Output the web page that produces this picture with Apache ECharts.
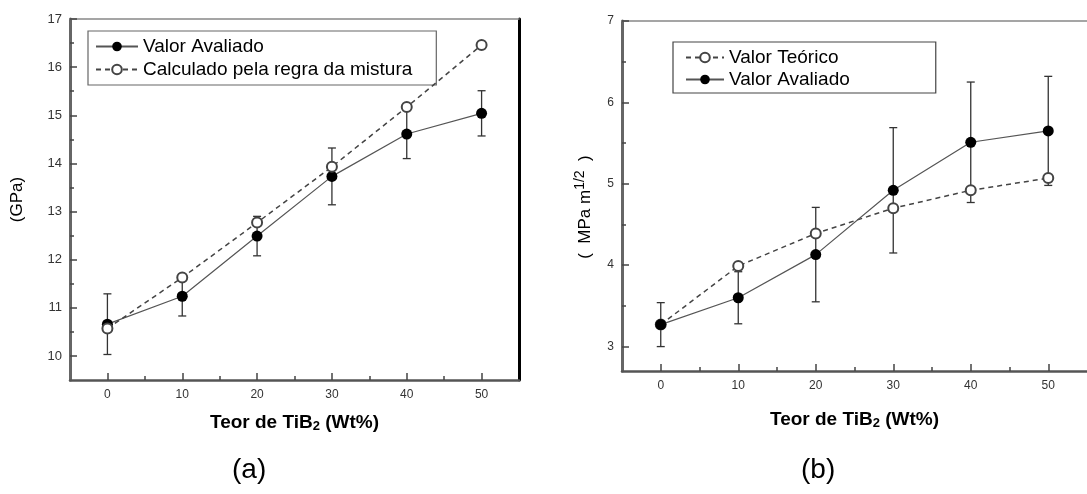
<!DOCTYPE html>
<html>
<head>
<meta charset="utf-8">
<script src="https://cdn.jsdelivr.net/npm/echarts@6/dist/echarts.min.js"></script>
<style>
  html, body { margin: 0; padding: 0; background: #fff; }
  #chart { width: 1087px; height: 494px; }
</style>
</head>
<body>
<div id="chart"></div>
<script>
// eixo x comum aos dois gráficos
const teorTiB2 = [0, 10, 20, 30, 40, 50];
const xMajor = [0, 10, 20, 30, 40, 50];
const xMinor = [5, 15, 25, 35, 45];

// (a) dureza
const durezaAvaliado = [10.66, 11.24, 12.49, 13.73, 14.61, 15.04];
const durezaErro = [0.63, 0.41, 0.41, 0.59, 0.51, 0.47];
const durezaMistura = [10.57, 11.63, 12.77, 13.93, 15.17, 16.46];
const yMajorA = [10, 11, 12, 13, 14, 15, 16, 17];
const yMinorA = [10.5, 11.5, 12.5, 13.5, 14.5, 15.5, 16.5];

// (b) tenacidade
const tenacAvaliado = [3.27, 3.60, 4.13, 4.92, 5.51, 5.65];
const tenacErro = [0.27, 0.32, 0.58, 0.77, 0.74, 0.67];
const tenacTeorico = [3.27, 3.99, 4.39, 4.70, 4.92, 5.07];
const yMajorB = [3, 4, 5, 6, 7];
const yMinorB = [3.5, 4.5, 5.5, 6.5];

const FONT = "'Liberation Sans', Arial, sans-serif";

const pares = (ys) => teorTiB2.map((x, i) => [x, ys[i]]);
const barras = (ys, err) => teorTiB2.map((x, i) => [x, ys[i] - err[i], ys[i] + err[i]]);

// barra de erro com "chapéu"
function renderErro(params, api) {
  const x = api.value(0);
  const lo = api.coord([x, api.value(1)]);
  const hi = api.coord([x, api.value(2)]);
  const w = 4;
  const st = { stroke: '#333', lineWidth: 1.3 };
  return {
    type: 'group',
    children: [
      { type: 'line', shape: { x1: hi[0], y1: hi[1], x2: lo[0], y2: lo[1] }, style: st },
      { type: 'line', shape: { x1: hi[0] - w, y1: hi[1], x2: hi[0] + w, y2: hi[1] }, style: st },
      { type: 'line', shape: { x1: lo[0] - w, y1: lo[1], x2: lo[0] + w, y2: lo[1] }, style: st }
    ]
  };
}

const nomeX = {
  name: 'Teor de TiB{sub|2} (Wt%)',
  nameLocation: 'middle',
  nameTextStyle: {
    fontFamily: FONT, fontSize: 19, fontWeight: 'bold', color: '#000',
    rich: { sub: { fontFamily: FONT, fontSize: 13, fontWeight: 'bold', color: '#000', padding: [8, 0, 0, 0] } }
  }
};

function eixoX(grid, gap) {
  return [
    Object.assign({
      gridIndex: grid, type: 'value', min: -5, max: 55, position: 'bottom', nameGap: gap,
      axisLine: { onZero: false, lineStyle: { color: '#555', width: 2.5 } },
      axisTick: { inside: true, length: 7, customValues: xMajor, lineStyle: { color: '#444', width: 1.5 } },
      axisLabel: { customValues: xMajor, margin: 9, fontFamily: FONT, fontSize: 12, color: '#333' },
      splitLine: { show: false }
    }, nomeX),
    {
      gridIndex: grid, type: 'value', min: -5, max: 55, position: 'bottom',
      axisLine: { show: false, onZero: false },
      axisTick: { inside: true, length: 4, customValues: xMinor, lineStyle: { color: '#444', width: 1.5 } },
      axisLabel: { show: false }, splitLine: { show: false }
    },
    {
      gridIndex: grid, type: 'value', min: -5, max: 55, position: 'top',
      axisLine: { onZero: false, lineStyle: { color: '#888', width: 1.5 } },
      axisTick: { show: false }, axisLabel: { show: false }, splitLine: { show: false }
    }
  ];
}

function eixoY(grid, min, max, major, minor, extra) {
  return [
    Object.assign({
      gridIndex: grid, type: 'value', min: min, max: max, position: 'left',
      nameLocation: 'middle', nameRotate: 90,
      axisLine: { onZero: false, lineStyle: { color: '#666', width: 3 } },
      axisTick: { inside: true, length: 7, customValues: major, lineStyle: { color: '#444', width: 1.5 } },
      axisLabel: { customValues: major, margin: 8, fontFamily: FONT, fontSize: 13, color: '#333' },
      splitLine: { show: false }
    }, extra),
    {
      gridIndex: grid, type: 'value', min: min, max: max, position: 'left',
      axisLine: { show: false, onZero: false },
      axisTick: { inside: true, length: 4, customValues: minor, lineStyle: { color: '#444', width: 1.5 } },
      axisLabel: { show: false }, splitLine: { show: false }
    }
  ];
}

const chart = echarts.init(document.getElementById('chart'));

const yA = eixoY(0, 9.5, 17, yMajorA, yMinorA, {
  name: '(GPa)', nameGap: 44,
  nameTextStyle: { fontFamily: FONT, fontSize: 17, color: '#000' }
});
yA.push({
  gridIndex: 0, type: 'value', min: 9.5, max: 17, position: 'right',
  axisLine: { onZero: false, lineStyle: { color: '#000', width: 3 } },
  axisTick: { show: false }, axisLabel: { show: false }, splitLine: { show: false }
});

const yB = eixoY(1, 2.7, 7, yMajorB, yMinorB, {
  name: '(  MPa m{sup|1/2}  )', nameGap: 24,
  nameTextStyle: {
    fontFamily: FONT, fontSize: 17, color: '#000', padding: [0, 22, 0, 0],
    rich: { sup: { fontFamily: FONT, fontSize: 14, color: '#000', padding: [0, 0, 11, 0] } }
  }
});
yB[0].axisLabel.fontSize = 12;

const solido = { color: '#555', width: 1.2 };
const tracejado = { color: '#444', width: 1.5, type: [5, 4] };

const option = {
  animation: false,
  textStyle: { fontFamily: FONT },
  grid: [
    { left: 70, top: 19, width: 449, height: 361 },
    { left: 622, top: 21, width: 470, height: 350 }
  ],
  legend: [
    {
      left: 88, top: 31, orient: 'vertical',
      data: ['Valor Avaliado', 'Calculado pela regra da mistura'],
      borderColor: '#666', borderWidth: 1.2, padding: [6, 24, 6, 7],
      itemGap: 4, itemWidth: 42, itemHeight: 12,
      textStyle: { fontFamily: FONT, fontSize: 19, color: '#000' }
    },
    {
      left: 673, top: 42, orient: 'vertical',
      data: ['Valor Teórico', 'Valor Avaliado'],
      borderColor: '#444', borderWidth: 1.2, padding: [6, 86, 4, 12],
      itemGap: 3, itemWidth: 38, itemHeight: 12,
      textStyle: { fontFamily: FONT, fontSize: 19, color: '#000' }
    }
  ],
  xAxis: eixoX(0, 32).concat(eixoX(1, 38)),
  yAxis: yA.concat(yB),
  series: [
    {
      name: 'erro-a', type: 'custom', xAxisIndex: 0, yAxisIndex: 0,
      renderItem: renderErro, data: barras(durezaAvaliado, durezaErro), z: 2
    },
    {
      name: 'Valor Avaliado', type: 'line', xAxisIndex: 0, yAxisIndex: 0,
      data: pares(durezaAvaliado), symbol: 'circle', symbolSize: 11,
      itemStyle: { color: '#000' }, lineStyle: solido, z: 3
    },
    {
      name: 'Calculado pela regra da mistura', type: 'line', xAxisIndex: 0, yAxisIndex: 0,
      data: pares(durezaMistura), symbol: 'emptyCircle', symbolSize: 10,
      itemStyle: { color: '#444', borderWidth: 1.2 }, lineStyle: tracejado, z: 4
    },
    {
      name: 'erro-b', type: 'custom', xAxisIndex: 3, yAxisIndex: 3,
      renderItem: renderErro, data: barras(tenacAvaliado, tenacErro), z: 2
    },
    {
      name: 'Valor Teórico', type: 'line', xAxisIndex: 3, yAxisIndex: 3,
      data: pares(tenacTeorico), symbol: 'emptyCircle', symbolSize: 10,
      itemStyle: { color: '#444', borderWidth: 1.2 }, lineStyle: tracejado, z: 3
    },
    {
      name: 'Valor Avaliado', type: 'line', xAxisIndex: 3, yAxisIndex: 3,
      data: pares(tenacAvaliado), symbol: 'circle', symbolSize: 11,
      itemStyle: { color: '#000' }, lineStyle: solido, z: 4
    }
  ],
  graphic: [
    { type: 'text', left: 232, top: 456, style: { text: '(a)', fontFamily: FONT, fontSize: 28, fill: '#000' } },
    { type: 'text', left: 801, top: 456, style: { text: '(b)', fontFamily: FONT, fontSize: 28, fill: '#000' } }
  ]
};

chart.setOption(option);
</script>
</body>
</html>
